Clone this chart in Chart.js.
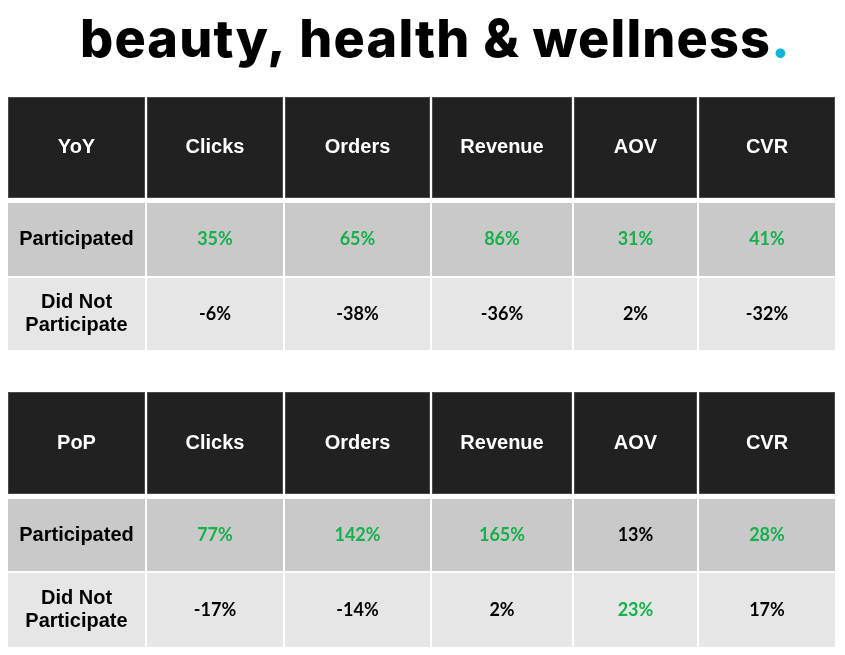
<!DOCTYPE html>
<html>
<head>
<meta charset="utf-8">
<script src="https://cdn.jsdelivr.net/npm/chart.js@4"></script>
<style>
html,body{margin:0;padding:0;background:#ffffff;}
#wrap{position:relative;width:845px;height:655px;}
canvas{display:block;}
</style>
</head>
<body>
<div id="wrap"><canvas id="c" width="845" height="655"></canvas></div>
<script>
// ---- data ----
const titleText = 'beauty, health & wellness';
const titleDot = '.';
const metrics = ['Clicks', 'Orders', 'Revenue', 'AOV', 'CVR'];
const tableNames = ['YoY', 'PoP'];
const rowLabels = ['Participated', 'Did Not\nParticipate'];
const yoyParticipated = [35, 65, 86, 31, 41];
const yoyDidNot = [-6, -38, -36, 2, -32];
const popParticipated = [77, 142, 165, 13, 28];
const popDidNot = [-17, -14, 2, 23, 17];
// which values are highlighted green in the source
const yoyParticipatedHi = [true, true, true, true, true];
const yoyDidNotHi = [false, false, false, false, false];
const popParticipatedHi = [true, true, true, false, true];
const popDidNotHi = [false, false, false, true, false];

// ---- layout (scale units) ----
const colEdges = [[8,145],[147,283],[285,430],[432,572],[574,697],[699,835]];
const tableRows = [
  [[97,198],[203,276],[278,350]],
  [[392,494],[499,571],[573,647]]
];
const tables = [
  {name: tableNames[0], rows: [[yoyParticipated, yoyParticipatedHi],[yoyDidNot, yoyDidNotHi]]},
  {name: tableNames[1], rows: [[popParticipated, popParticipatedHi],[popDidNot, popDidNotHi]]}
];
const COLORS = {header:'#212121', headerEdge:'#4a4a4a', row1:'#c9c9c9', row2:'#e6e6e6', green:'#15b14c', text:'#000000', white:'#ffffff', dot:'#12b5d6'};

const tablePlugin = {
  id: 'tablePlugin',
  beforeDatasetsDraw(chart) {
    const ctx = chart.ctx;
    const xs = chart.scales.x, ys = chart.scales.y;
    const px = v => xs.getPixelForValue(v);
    const py = v => ys.getPixelForValue(v);
    const rect = (x0,x1,y0,y1,fill,stroke) => {
      const a = px(x0), b = px(x1), c = py(y0), d = py(y1);
      ctx.fillStyle = fill;
      ctx.fillRect(a, c, b-a, d-c);
      if (stroke) { ctx.strokeStyle = stroke; ctx.lineWidth = 1; ctx.strokeRect(a+0.5, c+0.5, b-a-1, d-c-1); }
    };
    const text = (str, xc, yc, font, color, lh) => {
      ctx.font = font; ctx.fillStyle = color; ctx.textAlign = 'center'; ctx.textBaseline = 'middle';
      const lines = str.split('\n');
      lines.forEach((ln, i) => ctx.fillText(ln, px(xc), py(yc) + (i - (lines.length-1)/2) * lh));
    };
    const labelFont = 'bold 20px "Liberation Sans", Arial, sans-serif';
    const valueFont = 'bold 18px Lato, "Open Sans", sans-serif';

    ctx.save();
    // title
    let size = 56;
    const tf = s => `800 ${s}px Inter, Lato, sans-serif`;
    ctx.font = tf(size);
    const w = ctx.measureText(titleText).width;
    size = size * 690 / w * 0.96;
    ctx.font = tf(size);
    const w2 = ctx.measureText(titleText).width;
    const spacing = (690 - w2) / (titleText.length - 1);
    if ('letterSpacing' in ctx) ctx.letterSpacing = spacing + 'px';
    ctx.textAlign = 'left'; ctx.textBaseline = 'alphabetic';
    ctx.fillStyle = '#000';
    ctx.fillText(titleText, px(80), py(57));
    const tw = ctx.measureText(titleText).width;
    ctx.fillStyle = COLORS.dot;
    ctx.fillText(titleDot, px(80) + tw, py(57));
    if ('letterSpacing' in ctx) ctx.letterSpacing = '0px';

    tables.forEach((t, ti) => {
      const rows = tableRows[ti];
      // header row
      const [hy0, hy1] = rows[0];
      colEdges.forEach(([x0,x1], ci) => {
        rect(x0, x1, hy0, hy1, COLORS.header, COLORS.headerEdge);
        const label = ci === 0 ? t.name : metrics[ci-1];
        text(label, (x0+x1)/2, (hy0+hy1)/2, labelFont, COLORS.white, 23);
      });
      // data rows
      t.rows.forEach(([vals, hi], ri) => {
        const [y0, y1] = rows[ri+1];
        const fill = ri === 0 ? COLORS.row1 : COLORS.row2;
        colEdges.forEach(([x0,x1], ci) => {
          rect(x0, x1, y0, y1, fill);
          if (ci === 0) {
            text(rowLabels[ri], (x0+x1)/2, (y0+y1)/2, labelFont, COLORS.text, 23);
          } else {
            text(vals[ci-1] + '%', (x0+x1)/2, (y0+y1)/2, valueFont, hi[ci-1] ? COLORS.green : COLORS.text, 22);
          }
        });
      });
    });
    ctx.restore();
  }
};

new Chart(document.getElementById('c'), {
  type: 'scatter',
  data: { datasets: [{ data: [], pointRadius: 0 }] },
  options: {
    responsive: false,
    animation: false,
    layout: { padding: 0 },
    plugins: { legend: { display: false }, tooltip: { enabled: false }, title: { display: false } },
    scales: {
      x: { type: 'linear', min: 0, max: 845, display: false },
      y: { type: 'linear', min: 0, max: 655, reverse: true, display: false }
    }
  },
  plugins: [tablePlugin]
});
</script>
</body>
</html>
